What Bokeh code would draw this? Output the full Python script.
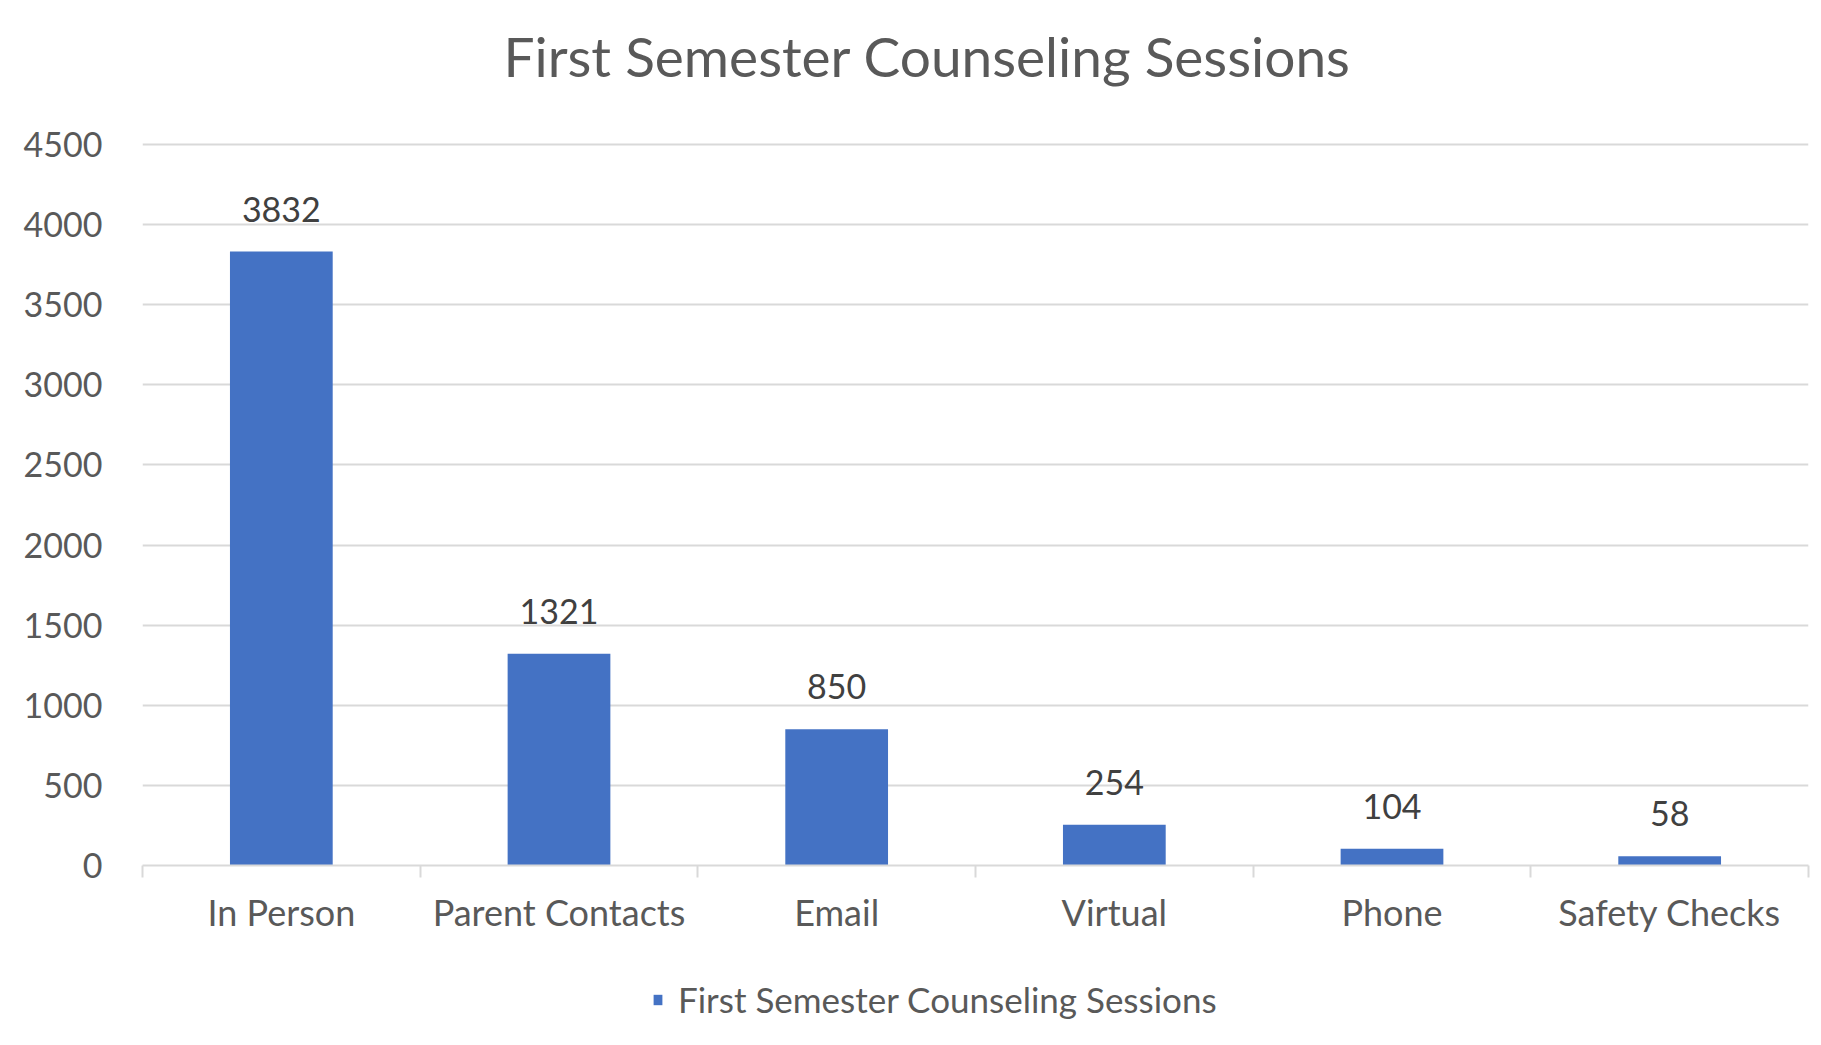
from bokeh.plotting import figure
from bokeh.layouts import column
from bokeh.models import (Range1d, FixedTicker, SingleIntervalTicker, ColumnDataSource,
                          LabelSet, Title, Legend, LegendItem)
from bokeh.core.properties import value
from bokeh.embed import file_html
from bokeh.resources import INLINE

# ---- data ----
categories = ["In Person", "Parent Contacts", "Email", "Virtual", "Phone", "Safety Checks"]
sessions = [3832, 1321, 850, 254, 104, 58]
series_name = "First Semester Counseling Sessions"
chart_title = "First Semester Counseling Sessions"
y_ticks_interval = 500
y_top_tick = 4500

FONT = "Lato"
BAR = "#4472C4"
GRID = "#d9d9d9"
TXT = "#595959"

pos = [i + 0.5 for i in range(len(categories))]
src = ColumnDataSource(dict(x=pos, top=sessions, lbl=[str(v) for v in sessions]))

# frame: top at 100px, 4500 grid line at 144px, zero at 865px
px_per_unit = (865 - 144) / y_top_tick
y_end = y_top_tick + (144 - 100) / px_per_unit

p = figure(frame_width=1666, frame_height=765, output_backend="svg", toolbar_location=None,
           x_range=Range1d(0, len(categories)), y_range=Range1d(0, y_end),
           min_border_left=142, min_border_right=5, min_border_top=100, min_border_bottom=95)
p.background_fill_color = "white"
p.border_fill_color = "white"
p.outline_line_color = None

bars = p.vbar(x="x", top="top", width=0.37, source=src, fill_color=BAR, line_color=None)

# y axis
p.yaxis.ticker = SingleIntervalTicker(interval=y_ticks_interval)
p.yaxis.axis_line_color = None
p.yaxis.major_tick_line_color = None
p.yaxis.minor_tick_line_color = None
p.yaxis.major_label_standoff = 34
p.yaxis.major_label_text_font = FONT
p.yaxis.major_label_text_font_size = "34px"
p.yaxis.major_label_text_color = TXT

# x axis
p.xaxis.ticker = FixedTicker(ticks=pos, minor_ticks=list(range(len(categories) + 1)))
p.xaxis.major_label_overrides = {x: c for x, c in zip(pos, categories)}
p.xaxis.axis_line_color = GRID
p.xaxis.axis_line_width = 2
p.xaxis.major_tick_line_color = None
p.xaxis.minor_tick_line_color = GRID
p.xaxis.minor_tick_line_width = 2
p.xaxis.minor_tick_in = 0
p.xaxis.minor_tick_out = 12
p.xaxis.major_label_standoff = 12
p.xaxis.major_label_text_font = FONT
p.xaxis.major_label_text_font_size = "36px"
p.xaxis.major_label_text_color = TXT

p.xgrid.grid_line_color = None
p.ygrid.grid_line_color = GRID
p.ygrid.grid_line_width = 2

# data labels
labels = LabelSet(x="x", y="top", text="lbl", source=src, y_offset=30,
                  text_align="center", text_baseline="alphabetic",
                  text_font=value(FONT), text_font_size=value("34px"), text_color=value("#404040"))
p.add_layout(labels)

# title
p.add_layout(Title(text=chart_title, align="left", offset=361, standoff=24,
                   text_font=FONT, text_font_size="55px", text_font_style="normal",
                   text_color=TXT), "above")

# legend strip below the chart (separate small canvas so it is not clipped);
# the series renderer there is hidden, only its legend swatch shows
leg_fig = figure(width=1813, height=80, output_backend="svg", toolbar_location=None,
                 x_range=Range1d(0, len(categories)), y_range=Range1d(-2, -1),
                 x_axis_location=None, y_axis_location=None, min_border=0)
leg_fig.grid.visible = False
leg_fig.outline_line_color = None
leg_fig.background_fill_color = "white"
leg_fig.border_fill_color = "white"
swatch = leg_fig.vbar(x="x", top="top", width=0.37, source=src, fill_color=BAR, line_color=None)
swatch.visible = False

legend = Legend(items=[LegendItem(label=series_name, renderers=[swatch])],
                location=(510, 20), orientation="horizontal",
                glyph_width=11, glyph_height=13, label_standoff=15,
                padding=0, margin=0, border_line_color=None, background_fill_alpha=0,
                inactive_fill_alpha=0,
                label_text_font=FONT, label_text_font_size="35px", label_text_color=TXT)
leg_fig.add_layout(legend, "center")

layout = column(p, leg_fig, spacing=0)
open("out.html", "w").write(file_html(layout, INLINE))
